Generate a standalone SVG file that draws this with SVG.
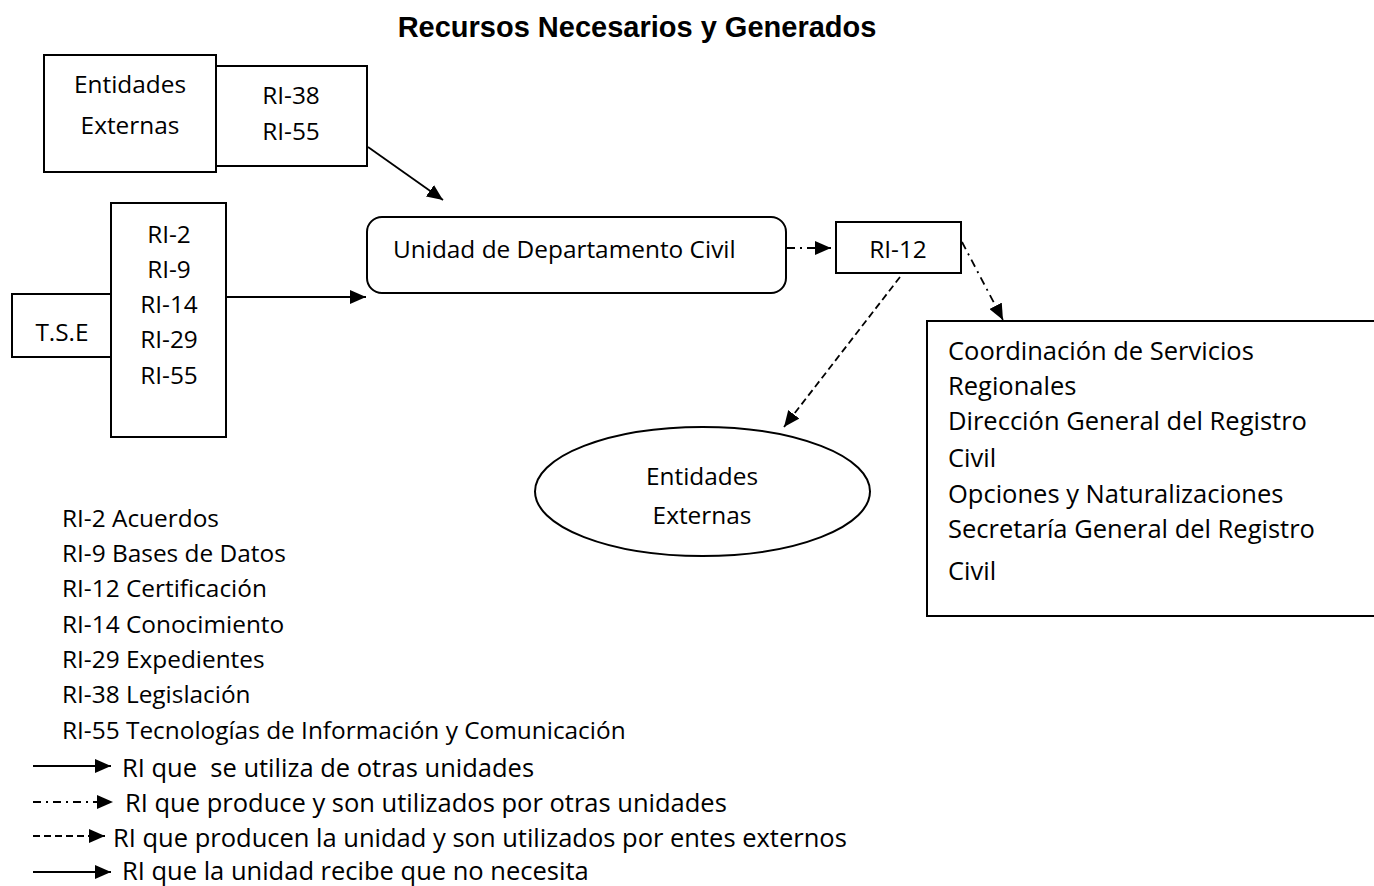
<svg xmlns="http://www.w3.org/2000/svg" width="1374" height="886" viewBox="0 0 1374 886">
  <style>
    .box { fill: #fff; stroke: #000; stroke-width: 2; }
    .t { font-family: "Open Sans", Lato, "Liberation Sans", sans-serif; font-size: 24.4px; fill: #000; }
    .big { font-size: 25.5px; }
    .c { text-anchor: middle; }
    .title { font-family: "Liberation Sans", Arial, sans-serif; font-size: 29px; font-weight: bold; text-anchor: middle; fill: #000; }
    .solid { stroke: #000; stroke-width: 1.8; fill: none; marker-end: url(#head); }
    .dashdot { stroke: #000; stroke-width: 1.8; fill: none; stroke-dasharray: 8 5 2 5; marker-end: url(#head); }
    .dashed { stroke: #000; stroke-width: 1.8; fill: none; stroke-dasharray: 7 4; marker-end: url(#head); }
  </style>
  <defs>
    <marker id="head" markerUnits="userSpaceOnUse" markerWidth="17" markerHeight="14" refX="16" refY="7" orient="auto">
      <path d="M0,0 L16,7 L0,14 Z" fill="#000"/>
    </marker>
  </defs>

  <rect width="1374" height="886" fill="#fff"/>

  <text class="title" x="637" y="37">Recursos Necesarios y Generados</text>

  <!-- external entities supplying RI-38 / RI-55 -->
  <g id="ext-source">
    <rect class="box" x="44" y="55" width="172" height="117"/>
    <text class="t c" x="130" y="93">Entidades</text>
    <text class="t c" x="130" y="134">Externas</text>
  </g>
  <g id="ri-ext">
    <rect class="box" x="216" y="66" width="151" height="100"/>
    <text class="t c" x="291" y="104">RI-38</text>
    <text class="t c" x="291" y="140">RI-55</text>
  </g>

  <!-- T.S.E and its resources -->
  <g id="tse">
    <rect class="box" x="12" y="294" width="99" height="63"/>
    <text class="t c" x="62" y="341">T.S.E</text>
  </g>
  <g id="ri-tse">
    <rect class="box" x="111" y="203" width="115" height="234"/>
    <text class="t c" x="169" y="243">RI-2</text>
    <text class="t c" x="169" y="278">RI-9</text>
    <text class="t c" x="169" y="313">RI-14</text>
    <text class="t c" x="169" y="348">RI-29</text>
    <text class="t c" x="169" y="384">RI-55</text>
  </g>

  <!-- the unit itself -->
  <g id="unidad">
    <rect class="box" x="367" y="217" width="419" height="76" rx="15" ry="15"/>
    <text class="t" x="393" y="258">Unidad de Departamento Civil</text>
  </g>

  <g id="ri-12">
    <rect class="box" x="836" y="222" width="125" height="51"/>
    <text class="t c" x="898" y="258">RI-12</text>
  </g>

  <g id="ext-target">
    <ellipse class="box" cx="702.5" cy="491.5" rx="167.5" ry="64.5"/>
    <text class="t c" x="702" y="485">Entidades</text>
    <text class="t c" x="702" y="524">Externas</text>
  </g>

  <g id="otras-unidades">
    <rect class="box" x="927" y="321" width="460" height="295"/>
    <text class="t big" x="948" y="360">Coordinación de Servicios</text>
    <text class="t big" x="948" y="395">Regionales</text>
    <text class="t big" x="948" y="430">Dirección General del Registro</text>
    <text class="t big" x="948" y="467">Civil</text>
    <text class="t big" x="948" y="503">Opciones y Naturalizaciones</text>
    <text class="t big" x="948" y="538">Secretaría General del Registro</text>
    <text class="t big" x="948" y="580">Civil</text>
  </g>

  <g id="connectors">
    <line class="solid" x1="368" y1="147" x2="443" y2="200"/>
    <line class="solid" x1="226" y1="297" x2="366" y2="297"/>
    <line class="dashdot" x1="787" y1="248" x2="831" y2="248"/>
    <line class="dashdot" x1="962" y1="242" x2="1003" y2="320"/>
    <line class="dashed" x1="900" y1="277" x2="784" y2="427"/>
  </g>

  <!-- legend -->
  <g id="legend">
    <text class="t" x="62" y="527">RI-2 Acuerdos</text>
    <text class="t" x="62" y="562">RI-9 Bases de Datos</text>
    <text class="t" x="62" y="597">RI-12 Certificación</text>
    <text class="t" x="62" y="633">RI-14 Conocimiento</text>
    <text class="t" x="62" y="668">RI-29 Expedientes</text>
    <text class="t" x="62" y="703">RI-38 Legislación</text>
    <text class="t" x="62" y="739">RI-55 Tecnologías de Información y Comunicación</text>

    <line class="solid" x1="33" y1="766" x2="111" y2="766"/>
    <text class="t big" x="122" y="777" xml:space="preserve">RI que  se utiliza de otras unidades</text>
    <line class="dashdot" x1="33" y1="802" x2="113" y2="802"/>
    <text class="t big" x="125" y="812">RI que produce y son utilizados por otras unidades</text>
    <line class="dashed" x1="33" y1="836" x2="105" y2="836"/>
    <text class="t big" x="113" y="847">RI que producen la unidad y son utilizados por entes externos</text>
    <line class="solid" x1="33" y1="872" x2="111" y2="872"/>
    <text class="t big" x="122" y="880">RI que la unidad recibe que no necesita</text>
  </g>
</svg>
